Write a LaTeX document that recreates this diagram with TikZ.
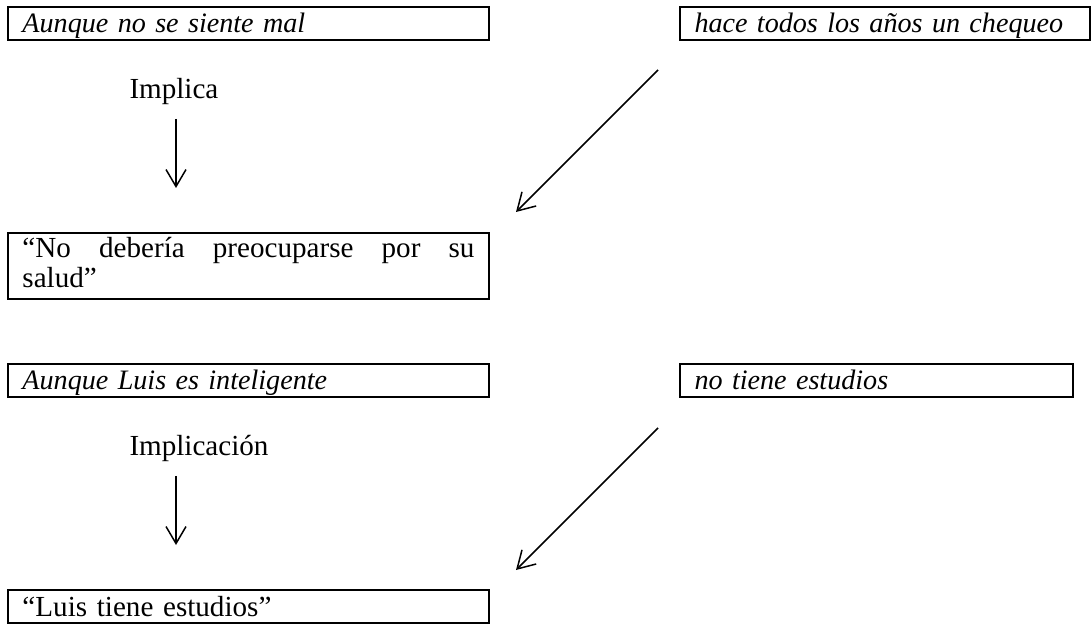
\documentclass[tikz,border=0pt]{standalone}
\usepackage{fontspec}
\setmainfont{Liberation Serif}
\usepackage{tikz}
\usetikzlibrary{arrows.meta,positioning}
\tikzset{
  caja/.style = {draw, rectangle, line width=0.9pt, anchor=north west, outer sep=0pt,
  inner xsep=5.8pt, inner ysep=0pt, font=\fontsize{11.64pt}{12pt}\selectfont},
  caja_t/.style = {caja, align=left, text height=10.4pt, text depth=2.8pt},
  caja_i/.style = {caja_t, font=\fontsize{11.25pt}{12pt}\selectfont\itshape},
  caja_j/.style = {caja, align=justify, inner ysep=1.6pt, text depth=15.25pt},
  rotulo/.style = {anchor=base west, inner sep=0pt, font=\fontsize{11.64pt}{12pt}\selectfont}
}

\begin{document}
\begin{tikzpicture}[x=0.4pt,y=-0.4pt,
        flecha/.style={-{Straight Barb[length=6.8pt,width=8pt]}, line width=0.6pt}]
  \useasboundingbox (0,0) rectangle (1091,624);
  % primer ejemplo
  \node [caja_i, text width=180.8pt] (aunque1) at (8,7) {Aunque no se siente mal};
  \node [caja_i, text width=152.4pt] (chequeo) at (680,7) {\mbox{hace todos los años un chequeo}};
  \node [rotulo] (implica) at (129,99) {Implica};
  \node [caja_j, text width=180.8pt] (salud) at (8,233) {“No debería preocuparse por su\linebreak salud”};
  \coordinate (v1a) at (176,119);
  \coordinate (v1b) at (176,188);
  \coordinate (d1a) at (658,70);
  \coordinate (d1b) at (516,212);
  \draw [flecha] (v1a) -- (v1b);
  \draw [flecha] (d1a) -- (d1b);
  % segundo ejemplo
  \node [caja_i, text width=180.8pt] (aunque2) at (8,364) {Aunque Luis es inteligente};
  \node [caja_i, text width=145.6pt] (estudios) at (680,364) {no tiene estudios};
  \node [rotulo] (implicacion) at (129,456) {Implicación};
  \node [caja_t, text width=180.8pt] (luis) at (8,590) {“Luis tiene estudios”};
  \coordinate (v2a) at (176,476);
  \coordinate (v2b) at (176,545);
  \coordinate (d2a) at (658,428);
  \coordinate (d2b) at (516,570);
  \draw [flecha] (v2a) -- (v2b);
  \draw [flecha] (d2a) -- (d2b);
\end{tikzpicture}
\end{document}
